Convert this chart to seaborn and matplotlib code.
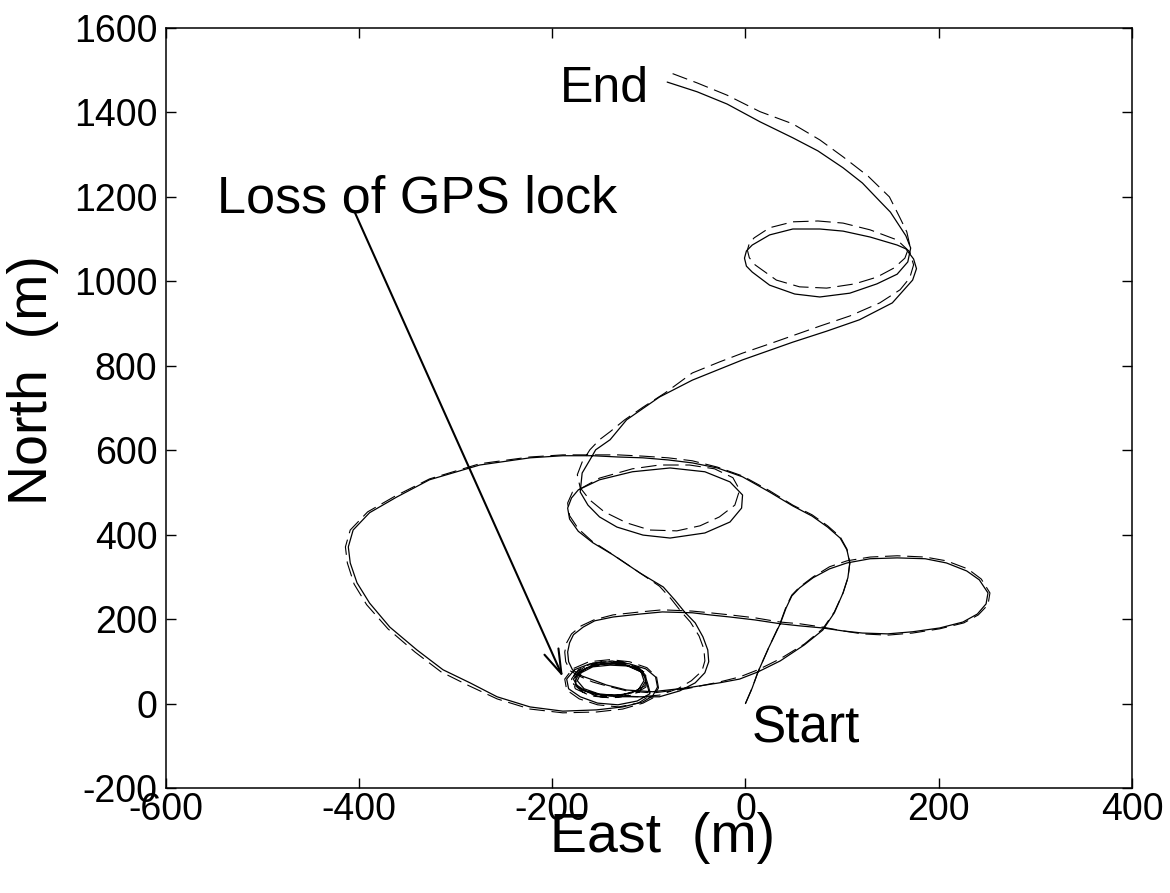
import matplotlib
matplotlib.use("Agg")
import matplotlib.pyplot as plt
import pandas as pd
import seaborn as sns

# Estimated track (solid line), metres East / North, in flight order
est_east = [
    0, 7, 13, 24, 36, 42, 48, 56, 70, 87, 105, 129, 157, 186, 208, 229, 242, 251, 249, 240,
    225, 201, 173, 147, 121, 101, 80, 56, 36, 10, -16, -37, -55, -86, -109, -137, -156, -168, -178, -182,
    -184, -183, -179,
    -169, -158, -144, -123, -96, -61, -27, -6, 13, 36, 61, 80, 92, 101, 106, 108, 105, 98, 85, 69,
    49, 25, -3, -29, -55, -80, -106, -132, -158, -189, -223, -275, -327, -361, -389, -406, -411, -409, -402, -389,
    -368, -340, -313, -285, -257, -223, -189, -154, -127, -106,
    -96, -91, -93, -103, -120, -140, -161, -177, -185, -183, -171, -153, -132, -112, -99,
    -102, -106, -120, -138, -157, -171, -178, -173, -159, -138, -118, -104,
    -103, -111, -128, -148, -164, -175, -176, -166, -149, -128, -111, -105,
    -108, -122, -140, -158, -170, -174, -167, -152, -130, -109,
    -89, -68, -52, -42, -38, -39, -44, -52, -63, -73, -85, -109, -137, -158, -173, -182, -184, -180, -173,
    -151, -117, -78, -42, -16, -3, -4, -16, -42, -78, -106, -133, -151, -163, -171,
    -169, -161, -155, -140, -123, -89, -55, -3, 49, 84, 118, 152, 173, 177, 174, 166,
    157, 129, 101, 77, 49, 25, 7, 1, -1, 1, 7, 25, 51, 77, 108, 136, 157, 168, 171, 166, 158, 150, 139,
    121, 101, 75, 49, 15, -19, -50, -81,
]
est_north = [
    0, 37, 75, 132, 189, 226, 255, 274, 298, 319, 333, 343, 345, 343, 333, 314, 293, 262, 236, 212,
    193, 179, 170, 165, 167, 172, 179, 184, 189, 198, 205, 210, 215, 217, 212, 205, 196, 181, 163, 144,
    122, 99, 80,
    65, 56, 44, 32, 28, 37, 49, 58, 75, 101, 139, 174, 215, 262, 298, 333, 364, 392, 418, 444,
    468, 501, 537, 558, 570, 577, 582, 584, 587, 587, 582, 565, 530, 489, 452, 411, 371, 333, 286, 238,
    181, 127, 80, 49, 16, -8, -18, -15, -8, 4,
    18, 39, 63, 82, 94, 99, 94, 80, 58, 35, 16, 1, -3, 6, 23,
    46, 73, 89, 96, 91, 77, 58, 37, 23, 18, 25, 42,
    63, 82, 94, 94, 85, 68, 46, 30, 20, 20, 32, 54,
    75, 89, 91, 87, 73, 54, 35, 23, 18, 16,
    16, 30, 49, 73, 99, 127, 158, 191, 217, 245, 276, 309, 352, 381, 408, 437, 463, 487, 506,
    530, 549, 558, 549, 525, 494, 463, 430, 404, 392, 399, 418, 442, 470, 501,
    546, 577, 601, 625, 672, 726, 766, 814, 856, 882, 909, 949, 1003, 1030, 1053, 1077,
    1086, 1105, 1119, 1124, 1124, 1110, 1086, 1072, 1055, 1036, 1022, 991, 970, 963, 972, 994, 1017, 1046, 1079, 1108, 1136, 1164, 1190,
    1233, 1269, 1309, 1340, 1378, 1420, 1449, 1472,
]

# Reference track (dashed line), metres East / North, in flight order
ref_east = [
    0, 7, 13, 24, 36, 42, 48, 56, 70, 87, 105, 129, 157, 186, 208, 230, 244, 253, 251, 241,
    226, 201, 173, 147, 121, 101, 80, 56, 36, 10, -16, -37, -55, -86, -109, -137, -157, -170, -180, -185,
    -187, -186, -181,
    -170, -158, -144, -123, -96, -61, -27, -6, 13, 36, 61, 80, 92, 101, 106, 108, 105, 98, 85, 69,
    49, 25, -3, -29, -55, -80, -106, -132, -158, -189, -223, -275, -327, -362, -391, -409, -414, -412, -405, -392,
    -370, -342, -315, -286, -257, -223, -189, -154, -127, -106,
    -96, -90, -92, -102, -120, -140, -162, -179, -187, -185, -172, -153, -131, -111, -98,
    -101, -105, -120, -138, -158, -173, -180, -176, -160, -138, -117, -103,
    -102, -110, -128, -148, -165, -177, -178, -168, -150, -128, -110, -104,
    -107, -122, -140, -159, -171, -176, -169, -153, -130, -109,
    -89, -70, -56, -45, -42, -43, -48, -57, -67, -77, -89, -111, -138, -159, -173, -182, -184, -179, -173,
    -151, -117, -89, -58, -32, -13, -6, -11, -27, -47, -71, -99, -123, -146, -161, -171,
    -174, -169, -161, -151, -140, -125, -106, -83, -55, -27, -3, 25, 56, 77, 108, 139, 160, 170, 174, 170,
    157, 129, 101, 75, 49, 25, 9, 4, 2, 4, 10, 32, 56, 84, 113, 136, 154, 165, 170, 167, 160, 149,
    127, 101, 77, 49, 15, -19, -50, -80,
]
ref_north = [
    0, 37, 75, 132, 191, 229, 257, 276, 300, 324, 338, 347, 350, 347, 338, 319, 295, 262, 234, 210,
    191, 177, 167, 162, 165, 172, 181, 189, 193, 203, 210, 215, 219, 222, 217, 210, 198, 184, 165, 144,
    122, 99, 77,
    63, 51, 42, 30, 25, 35, 51, 63, 80, 106, 141, 177, 217, 262, 297, 333, 366, 395, 421, 447,
    470, 504, 539, 560, 575, 582, 586, 589, 589, 589, 584, 568, 532, 492, 454, 411, 371, 333, 283, 234,
    177, 122, 75, 42, 11, -13, -22, -20, -13, 1,
    13, 37, 63, 85, 99, 104, 99, 82, 58, 32, 11, -3, -8, 1, 20,
    46, 75, 94, 101, 96, 80, 58, 35, 18, 13, 20, 39,
    63, 85, 99, 99, 89, 70, 46, 27, 16, 16, 27, 51,
    77, 94, 96, 91, 75, 54, 32, 20, 16, 16,
    20, 35, 54, 77, 101, 129, 160, 193, 219, 248, 278, 312, 354, 385, 414, 445, 475, 501, 506,
    534, 556, 565, 565, 556, 535, 506, 470, 442, 421, 409, 411, 428, 454, 482, 511,
    542, 572, 601, 625, 644, 672, 702, 736, 783, 809, 830, 852, 877, 894, 918, 949, 980, 1008, 1039, 1070,
    1098, 1122, 1138, 1143, 1141, 1127, 1103, 1090, 1074, 1056, 1039, 1003, 987, 984, 994, 1010, 1032, 1055, 1086, 1117, 1150, 1200,
    1249, 1295, 1335, 1373, 1402, 1441, 1470, 1496,
]

x_ticks = [-600, -400, -200, 0, 200, 400]
y_ticks = [-200, 0, 200, 400, 600, 800, 1000, 1200, 1400, 1600]

est = pd.DataFrame({"East": est_east, "North": est_north})
ref = pd.DataFrame({"East": ref_east, "North": ref_north})

sns.set_theme(style="white")
plt.rcParams["font.family"] = ["Liberation Sans", "DejaVu Sans"]
plt.rcParams["axes.unicode_minus"] = False

fig = plt.figure(figsize=(11.7, 8.93), dpi=100)
ax = fig.add_axes([0.1416, 0.1176, 0.8259, 0.8510])

sns.lineplot(data=ref, x="East", y="North", sort=False, estimator=None, ax=ax,
             color="black", linewidth=0.8, linestyle=(0, (14, 6)))
sns.lineplot(data=est, x="East", y="North", sort=False, estimator=None, ax=ax,
             color="black", linewidth=0.9)

ax.set_xlim(-600, 400)
ax.set_ylim(-200, 1600)
ax.set_xticks(x_ticks)
ax.set_yticks(y_ticks)
ax.set_xticklabels([str(v) for v in x_ticks])
ax.set_yticklabels([str(v) for v in y_ticks])
ax.tick_params(axis="both", which="both", direction="in", length=7, width=1.0,
               colors="black", labelsize=27, top=True, right=True,
               bottom=True, left=True)
ax.tick_params(axis="x", pad=3)
ax.tick_params(axis="y", pad=6)
for side in ax.spines.values():
    side.set_visible(True)
    side.set_color("black")
    side.set_linewidth(1.1)

ax.set_xlabel("East  (m)", fontsize=40, color="black")
ax.set_ylabel("North  (m)", fontsize=40, color="black")
ax.xaxis.set_label_coords(0.5146, -0.031)
ax.yaxis.set_label_coords(-0.110, 0.537)

ax.text(-192, 1425, "End", fontsize=36, ha="left", va="baseline", color="black")
ax.text(6.5, -93, "Start", fontsize=37, ha="left", va="baseline", color="black")
ax.text(-547, 1164, "Loss of GPS lock", fontsize=37.5, ha="left", va="baseline", color="black")
ax.annotate("", xy=(-189, 63), xytext=(-404, 1162),
            arrowprops=dict(arrowstyle="->,head_length=0.7,head_width=0.22",
                            mutation_scale=25, color="black", lw=1.5,
                            shrinkA=0, shrinkB=0))

fig.savefig("out.png", dpi=100, facecolor="white")
